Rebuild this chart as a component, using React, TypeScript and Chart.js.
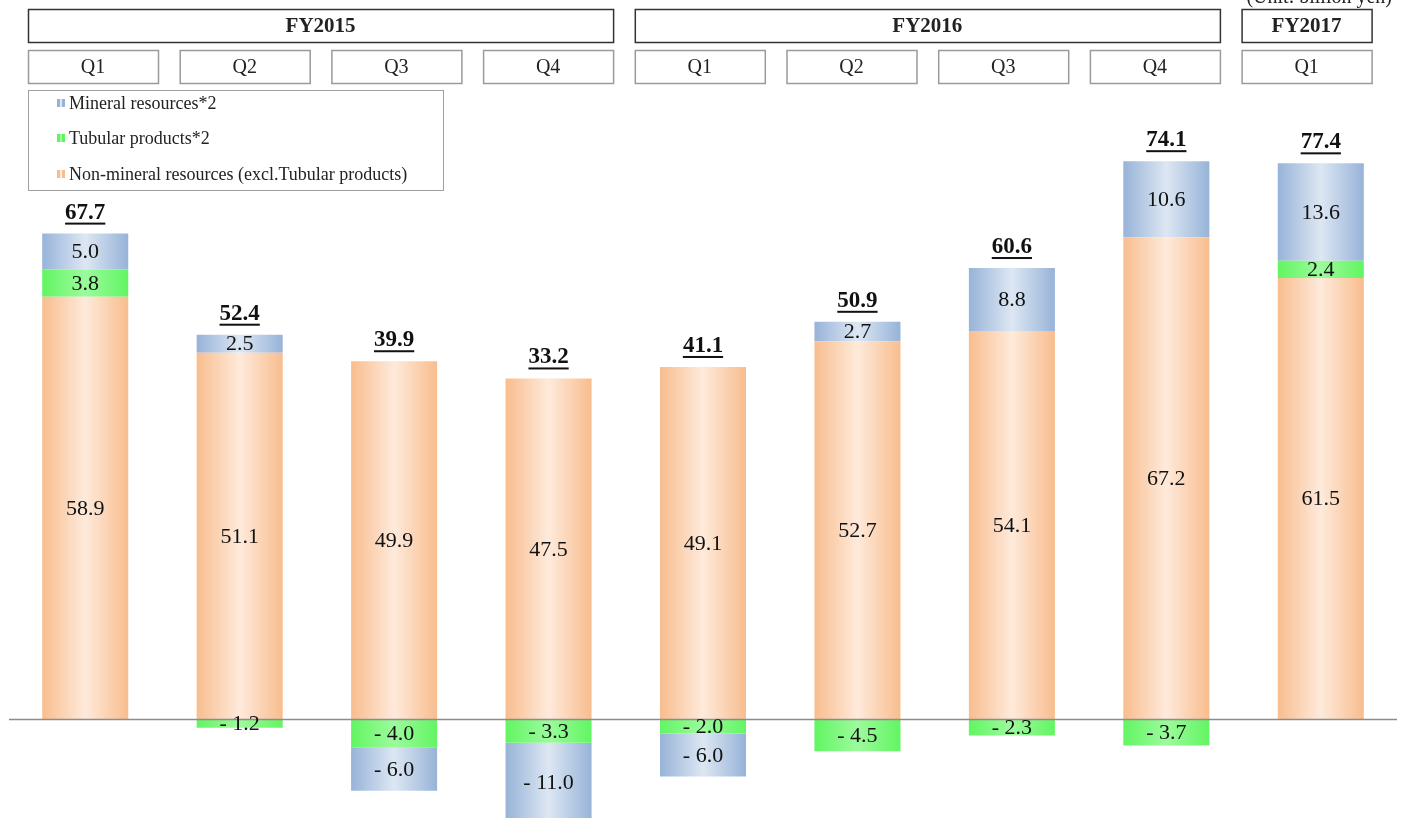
import React, { useEffect, useRef } from "react";
import { Chart, registerables } from "chart.js";

Chart.register(...registerables);

const quarters = ["Q1", "Q2", "Q3", "Q4", "Q1", "Q2", "Q3", "Q4", "Q1"];
const fiscalYears = ["FY2015", "FY2016", "FY2017"];
const fiscalYearSpans = [4, 4, 1];
const nonMineral = [58.9, 51.1, 49.9, 47.5, 49.1, 52.7, 54.1, 67.2, 61.5];
const tubular = [3.8, -1.2, -4.0, -3.3, -2.0, -4.5, -2.3, -3.7, 2.4];
const mineral = [5.0, 2.5, -6.0, -11.0, -6.0, 2.7, 8.8, 10.6, 13.6];
const totals = [67.7, 52.4, 39.9, 33.2, 41.1, 50.9, 60.6, 74.1, 77.4];
const seriesNames = [
  "Mineral resources*2",
  "Tubular products*2",
  "Non-mineral resources (excl.Tubular products)",
];
const unitLabel = "(Unit: billion yen)";

const FONT = "'Liberation Serif', 'DejaVu Serif', serif";
const BAR_PCT = 0.557;

const palette: Record<string, [string, string]> = {
  orange: ["#F8BD8E", "#FEEADB"],
  green: ["#62F562", "#9CFB9C"],
  blue: ["#97B3D8", "#DDE7F3"],
};

function gradientFill(key: string) {
  return (ctx: any) => {
    const chart = ctx.chart;
    const xs = chart.scales && chart.scales.x;
    if (!xs || ctx.dataIndex === undefined) return palette[key][0];
    const cx = xs.getPixelForValue(ctx.dataIndex);
    const catW = (xs.right - xs.left) / quarters.length;
    const w = catW * BAR_PCT;
    if (!isFinite(cx) || !isFinite(w) || w <= 0) return palette[key][0];
    const g = chart.ctx.createLinearGradient(cx - w / 2, 0, cx + w / 2, 0);
    const [edge, mid] = palette[key];
    g.addColorStop(0, edge);
    g.addColorStop(0.5, mid);
    g.addColorStop(1, edge);
    return g;
  };
}

const fmt = (v: number) => (v < 0 ? "- " + Math.abs(v).toFixed(1) : v.toFixed(1));

const decorPlugin = {
  id: "decor",
  afterDatasetsDraw(chart: any) {
    const ctx = chart.ctx;
    const ys = chart.scales.y;
    const xs = chart.scales.x;
    const y0 = ys.getPixelForValue(0);
    ctx.save();
    ctx.strokeStyle = "#8c8c8c";
    ctx.lineWidth = 1.5;
    ctx.beginPath();
    ctx.moveTo(xs.left + 1, y0 + 0.5);
    ctx.lineTo(xs.right - 1, y0 + 0.5);
    ctx.stroke();
    ctx.restore();
  },
  afterDraw(chart: any) {
    const ctx = chart.ctx;
    const xs = chart.scales.x;
    const ys = chart.scales.y;
    ctx.save();
    ctx.fillStyle = "#111";
    ctx.textAlign = "center";
    ctx.textBaseline = "middle";
    ctx.font = `22px ${FONT}`;
    chart.data.datasets.forEach((ds: any, di: number) => {
      const meta = chart.getDatasetMeta(di);
      meta.data.forEach((bar: any, i: number) => {
        const v = ds.data[i];
        const yMid = (bar.y + bar.base) / 2;
        ctx.fillText(fmt(v), bar.x, yMid + 1);
      });
    });
    ctx.font = `bold 23px ${FONT}`;
    totals.forEach((t, i) => {
      const posSum = [nonMineral[i], tubular[i], mineral[i]].filter((v) => v > 0).reduce((a, b) => a + b, 0);
      const top = ys.getPixelForValue(posSum);
      const x = xs.getPixelForValue(i);
      const y = top - 21;
      const txt = t.toFixed(1);
      ctx.fillText(txt, x, y);
      const w = ctx.measureText(txt).width;
      ctx.fillRect(x - w / 2, y + 10, w, 2);
    });
    const boxW = 130;
    const boxStep = 151.7;
    const boxLeft0 = 28;
    ctx.font = `20px ${FONT}`;
    quarters.forEach((q, i) => {
      const l = boxLeft0 + i * boxStep;
      ctx.strokeStyle = "#9a9a9a";
      ctx.lineWidth = 1.5;
      ctx.strokeRect(l + 0.5, 50.5, boxW, 33);
      ctx.fillStyle = "#222";
      ctx.fillText(q, l + boxW / 2, 68);
    });
    ctx.font = `bold 21px ${FONT}`;
    let start = 0;
    fiscalYears.forEach((fy, k) => {
      const span = fiscalYearSpans[k];
      const l = boxLeft0 + start * boxStep;
      const r = boxLeft0 + (start + span - 1) * boxStep + boxW;
      ctx.strokeStyle = "#333";
      ctx.lineWidth = 1.5;
      ctx.strokeRect(l + 0.5, 9.5, r - l, 33);
      ctx.fillStyle = "#222";
      ctx.fillText(fy, (l + r) / 2, 27);
      start += span;
    });
    ctx.font = `20px ${FONT}`;
    ctx.textAlign = "right";
    ctx.textBaseline = "alphabetic";
    ctx.fillText(unitLabel, 1392, 3);
    ctx.strokeStyle = "#a0a0a0";
    ctx.lineWidth = 1;
    ctx.strokeRect(28.5, 90.5, 415, 100);
    const keys = ["blue", "green", "orange"];
    const ly = [103, 138, 174];
    ctx.font = `18px ${FONT}`;
    ctx.textAlign = "left";
    ctx.textBaseline = "middle";
    keys.forEach((k, i) => {
      const [edge, mid] = palette[k];
      const x = 57;
      const y = ly[i] - 4;
      ctx.fillStyle = edge;
      ctx.fillRect(x, y, 8, 8);
      ctx.fillStyle = mid;
      ctx.fillRect(x + 3, y, 2, 8);
      ctx.fillStyle = "#222";
      ctx.fillText(seriesNames[i], x + 12, ly[i] + 1);
    });
    ctx.restore();
  },
};

export default function App() {
  const ref = useRef<HTMLCanvasElement>(null);
  useEffect(() => {
    document.body.style.margin = "0";
    const canvas = ref.current!;
    const chart = new Chart(canvas, {
      type: "bar",
      data: {
        labels: quarters,
        datasets: [
          { label: seriesNames[2], data: nonMineral, backgroundColor: gradientFill("orange") },
          { label: seriesNames[1], data: tubular, backgroundColor: gradientFill("green") },
          { label: seriesNames[0], data: mineral, backgroundColor: gradientFill("blue") },
        ],
      },
      options: {
        animation: false,
        responsive: false,
        maintainAspectRatio: false,
        layout: { padding: { left: 8, right: 3, top: 2, bottom: 0 } },
        datasets: { bar: { categoryPercentage: 1, barPercentage: BAR_PCT, borderWidth: 0 } },
        plugins: { legend: { display: false }, tooltip: { enabled: false } },
        scales: {
          x: { stacked: true, display: false },
          y: { stacked: true, display: false, min: -13.8, max: 100 },
        },
      },
      plugins: [decorPlugin],
    });
    return () => chart.destroy();
  }, []);
  return (
    <div style={{ width: 1401, height: 818, background: "#fff" }}>
      <canvas ref={ref} width={1401} height={818} style={{ display: "block" }} />
    </div>
  );
}
